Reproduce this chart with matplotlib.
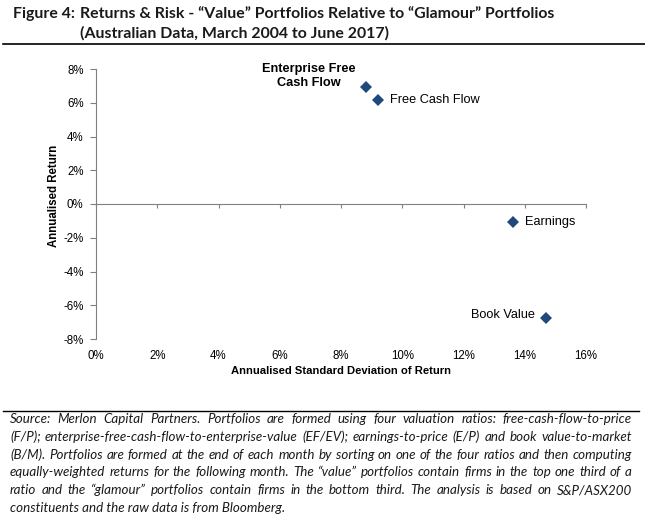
import matplotlib
matplotlib.use("Agg")
import matplotlib.pyplot as plt
from matplotlib.ticker import FuncFormatter, MultipleLocator

# data (percent)
portfolios = ["Enterprise Free\nCash Flow", "Free Cash Flow", "Earnings", "Book Value"]
std_dev = [8.82, 9.2, 13.6, 14.7]
returns = [6.92, 6.15, -1.08, -6.76]
x_ticks = [0, 2, 4, 6, 8, 10, 12, 14, 16]

title_lines = ["Returns & Risk - \u201cValue\u201d Portfolios Relative to \u201cGlamour\u201d Portfolios",
               "(Australian Data, March 2004 to June 2017)"]
note_lines = [
    "Source: Merlon Capital Partners. Portfolios are formed using four valuation ratios: free-cash-flow-to-price",
    "(F/P); enterprise-free-cash-flow-to-enterprise-value (EF/EV); earnings-to-price (E/P) and book value-to-market",
    "(B/M). Portfolios are formed at the end of each month by sorting on one of the four ratios and then computing",
    "equally-weighted returns for the following month. The \u201cvalue\u201d portfolios contain firms in the top one third of a",
    "ratio and the \u201cglamour\u201d portfolios contain firms in the bottom third. The analysis is based on S&P/ASX200",
    "constituents and the raw data is from Bloomberg.",
]

W, H = 645, 519
fig = plt.figure(figsize=(W / 100, H / 100), dpi=100)
ax = fig.add_axes([96 / W, 1 - 339 / H, (586 - 96) / W, (339 - 69) / H])

chart_font = "Liberation Sans"
navy = "#1F497D"
grey = "#808080"

ax.plot(std_dev, returns, "D", color=navy, markersize=6, markeredgewidth=0)

ax.set_xlim(0, 16)
ax.set_ylim(-8, 8)
ax.set_xticks(x_ticks)
ax.yaxis.set_major_locator(MultipleLocator(2))
pct = FuncFormatter(lambda v, p: f"{v:.0f}%")
ax.yaxis.set_major_formatter(pct)

# horizontal axis line runs through zero, labels sit at the bottom
for s in ["top", "right"]:
    ax.spines[s].set_visible(False)
ax.spines["bottom"].set_position(("data", 0))
ax.spines["bottom"].set_color(grey)
ax.spines["left"].set_color(grey)
ax.tick_params(axis="x", direction="out", length=3, color=grey, labelbottom=False)
ax.tick_params(axis="y", direction="out", length=4, color=grey, pad=5,
               labelsize=8.3, labelfontfamily=chart_font)

sec = ax.secondary_xaxis("bottom")
sec.spines["bottom"].set_visible(False)
sec.set_xticks(x_ticks)
sec.xaxis.set_major_formatter(pct)
sec.tick_params(length=0, pad=8, labelsize=8.3, labelfontfamily=chart_font)
sec.set_xlabel("Annualised Standard Deviation of Return", fontsize=8.1,
               fontweight="bold", family=chart_font, labelpad=3)
ax.set_ylabel("Annualised Return", fontsize=8.3, fontweight="bold", family=chart_font)
ax.yaxis.set_label_coords(-0.074, 0.53)

# point labels
lab = dict(fontsize=9.2, family=chart_font, va="center")
ax.annotate(portfolios[0], (std_dev[0], returns[0]), xytext=(-57, 11),
            textcoords="offset pixels", ha="center", fontweight="bold", **lab)
ax.annotate(portfolios[1], (std_dev[1], returns[1]), xytext=(12, 0),
            textcoords="offset pixels", ha="left", **lab)
ax.annotate(portfolios[2], (std_dev[2], returns[2]), xytext=(13, 0),
            textcoords="offset pixels", ha="left", **lab)
ax.annotate(portfolios[3], (std_dev[3], returns[3]), xytext=(-11, 3),
            textcoords="offset pixels", ha="right", **lab)

# title
title_kw = dict(fontsize=11.4, fontweight="bold", family="Lato", color="#1a1a1a", va="center")
fig.text(75 / W, 1 - 14 / H, "Figure 4:", ha="right", **title_kw)
fig.text(80 / W, 1 - 14 / H, title_lines[0], **title_kw)
fig.text(80 / W, 1 - 33 / H, title_lines[1], **title_kw)
fig.add_artist(plt.Line2D([3 / W, 1], [1 - 44 / H] * 2, color="black", lw=1.2))
fig.add_artist(plt.Line2D([3 / W, 639 / W], [1 - 411 / H] * 2, color="black", lw=1.0))

# justified footnote
note_kw = dict(fontsize=9.6, style="italic", family="Lato", color="#1a1a1a", va="center")
renderer = fig.canvas.get_renderer()
x0, x1 = 10, 632
for i, line in enumerate(note_lines):
    y = 1 - (419 + i * 17.8) / H
    words = line.split(" ")
    if i == len(note_lines) - 1:
        fig.text(x0 / W, y, line, **note_kw)
        continue
    widths = []
    for w in words:
        t = fig.text(0, 0, w, **note_kw)
        widths.append(t.get_window_extent(renderer).width)
        t.remove()
    gap = (x1 - x0 - sum(widths)) / (len(words) - 1)
    x = x0
    for w, wd in zip(words, widths):
        fig.text(x / W, y, w, **note_kw)
        x += wd + gap

fig.savefig("out.png", dpi=100)
